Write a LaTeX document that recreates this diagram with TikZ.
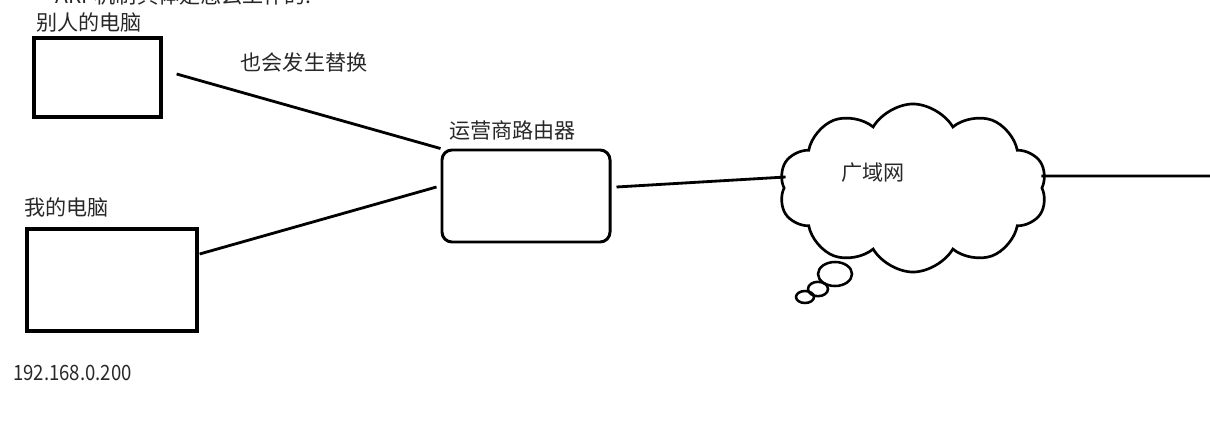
\documentclass[tikz,border=0pt]{standalone}
\usepackage{fontspec}
\setmainfont{Noto Sans CJK SC}
\newfontfamily\ipfont[FakeStretch=0.88]{Noto Sans CJK SC}
\usepackage{tikz}
\usetikzlibrary{positioning, shapes.geometric, shapes.symbols}
\definecolor{inkgray}{RGB}{40,40,40}

\begin{document}
\begin{tikzpicture}[
      x=0.025cm, y=-0.025cm,
      every node/.style={font=\fontsize{15}{17}\selectfont, text=inkgray, inner sep=0pt},
      pcbox/.style={draw=black, line width=2.3pt, minimum width=#1},
      router/.style={draw=black, line width=2.1pt, rounded corners=0.25cm,
                     minimum width=4.2cm, minimum height=2.3cm},
      wancloud/.style={cloud, draw=black, line width=1.9pt, cloud puffs=10,
                       cloud puff arc=120, aspect=1.6,
                       minimum width=6.7cm, minimum height=4.2cm},
      bubble/.style={ellipse, draw=black, line width=1.8pt},
      link/.style={line width=2pt, draw=black},
    ]
    \useasboundingbox (0,0) rectangle (1210,427);

    % titulo cortado arriba
    \node[anchor=west] (title) at (55,-5) {ARP机制具体是怎么工作的:};

    % equipos
    \node[pcbox=3.175cm, minimum height=1.975cm] (other) at (97.5,77.5) {};
    \node[anchor=south west] (otherlbl) at (36,33) {别人的电脑};

    \node[pcbox=4.25cm, minimum height=2.55cm] (mine) at (112,280) {};
    \node[anchor=south west] (minelbl) at (24,218) {我的电脑};
    \node[anchor=west, font=\ipfont\fontsize{15}{17}\selectfont] (ip) at (13,373) {192.168.0.200};

    % router del operador
    \node[router] (isp) at (526,196) {};
    \node[anchor=south west] (isplbl) at (449,141) {运营商路由器};

    % red amplia
    \node[wancloud] (wan) at (913,188) {};
    \node (wanlbl) at (873,173) {广域网};
    \node[bubble, minimum width=0.85cm, minimum height=0.6cm] (b1) at (835,274) {};
    \node[bubble, minimum width=0.5cm, minimum height=0.36cm] (b2) at (818,289) {};
    \node[bubble, minimum width=0.45cm, minimum height=0.3cm] (b3) at (805,297) {};
    \coordinate (edge) at (1210,176);

    % nota sobre la linea
    \node (swap) at (304,62) {也会发生替换};

    % conexiones
    \draw[link] ([shift={(14,-3.5)}]other.east) -- (isp.north west);
    \draw[link] ([shift={(1,-26)}]mine.east) -- ([shift={(-4,-9)}]isp.west);
    \draw[link] ([shift={(5,-9)}]isp.east) -- ([shift={(3,-11)}]wan.west);
    \draw[link] ([shift={(-2,-12)}]wan.east) -- (edge);

  \end{tikzpicture}
\end{document}
